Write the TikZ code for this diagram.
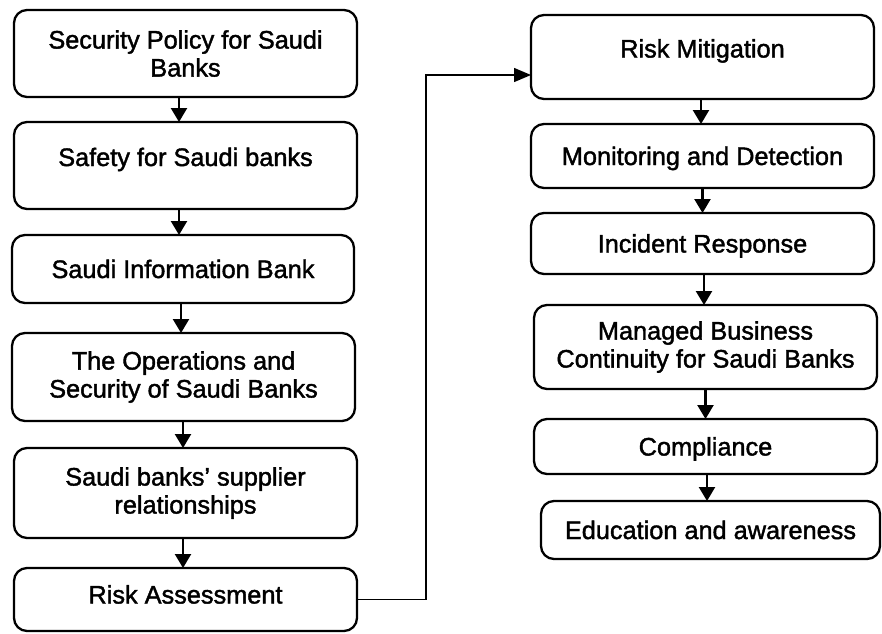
\documentclass[tikz,border=0pt]{standalone}
\usepackage{fontspec}
\setmainfont{Liberation Sans}
\newfontfamily\boxfont{Liberation Sans}[FakeBold=1.6]
\usetikzlibrary{arrows.meta}
\begin{document}
\begin{tikzpicture}[x=1pt,y=-1pt,
  stage/.style={draw, line width=2.3pt, rounded corners=13pt, align=center,
    inner sep=0pt, outer sep=0pt, minimum width=343pt,
    font=\boxfont\fontsize{25.3}{28}\selectfont},
  oneline/.style={text height=18pt, text depth=#1},
  oneline/.default=0pt,
  flow/.style={line width=2.3pt, -{Triangle[width=16pt,length=14pt]}},
  link/.style={line width=1.4pt, -{Triangle[width=14pt,length=17pt]}}
]
\useasboundingbox[fill=white] (0,0) rectangle (882,633);

% left column
\node[stage, minimum height=87pt] (b1) at (185.5,53.5) {Security Policy for Saudi\\Banks};
\node[stage, oneline=17pt, minimum height=87pt] (b2) at (185.5,165.5) {Safety for Saudi banks};
\node[stage, oneline, minimum width=342pt, minimum height=68pt] (b3) at (183,269) {Saudi Information Bank};
\node[stage, minimum height=88pt] (b4) at (183.5,377) {The Operations and\\Security of Saudi Banks};
\node[stage, minimum height=90pt] (b5) at (185.5,493) {Saudi banks’ supplier\\relationships};
\node[stage, oneline=10pt, minimum height=63pt] (b6) at (185.5,599.5) {Risk Assessment};

% right column
\node[stage, oneline=17pt, minimum height=84pt] (r1) at (702.5,57) {Risk Mitigation};
\node[stage, oneline, minimum height=64pt] (r2) at (702.5,156) {Monitoring and Detection};
\node[stage, oneline, minimum height=61pt] (r3) at (702.5,243.5) {Incident Response};
\node[stage, minimum height=84pt] (r4) at (705.5,347) {Managed Business\\Continuity for Saudi Banks};
\node[stage, oneline, minimum height=55pt] (r5) at (705.5,446.5) {Compliance};
\node[stage, oneline, minimum width=339pt, minimum height=58pt] (r6) at (710.5,530) {Education and awareness};

% arrow start points along the bottom edges
\coordinate (s1) at ([xshift=-6.5pt]b1.south);
\coordinate (s2) at ([xshift=-6.5pt]b2.south);
\coordinate (s3) at ([xshift=-2pt]b3.south);
\coordinate (s4) at ([xshift=-0.5pt]b4.south);
\coordinate (s5) at ([xshift=-2.5pt]b5.south);
\coordinate (q1) at ([xshift=-1.5pt]r1.south);
\coordinate (q2) at ([xshift=0pt]r2.south);
\coordinate (q3) at ([xshift=1.5pt]r3.south);
\coordinate (q4) at ([xshift=0pt]r4.south);
\coordinate (q5) at ([xshift=1.5pt]r5.south);

\draw[flow] (s1) -- (s1 |- b2.north);
\draw[flow] (s2) -- (s2 |- b3.north);
\draw[flow] (s3) -- (s3 |- b4.north);
\draw[flow] (s4) -- (s4 |- b5.north);
\draw[flow] (s5) -- (s5 |- b6.north);

\draw[flow] (q1) -- (q1 |- r2.north);
\draw[flow] (q2) -- (q2 |- r3.north);
\draw[flow] (q3) -- (q3 |- r4.north);
\draw[flow] (q4) -- (q4 |- r5.north);
\draw[flow] (q5) -- (q5 |- r6.north);

% hand-over from the left column to the right column
\draw[link] (b6.east) -- ++(69,0) |- ([yshift=-18pt]r1.west);
\end{tikzpicture}
\end{document}
